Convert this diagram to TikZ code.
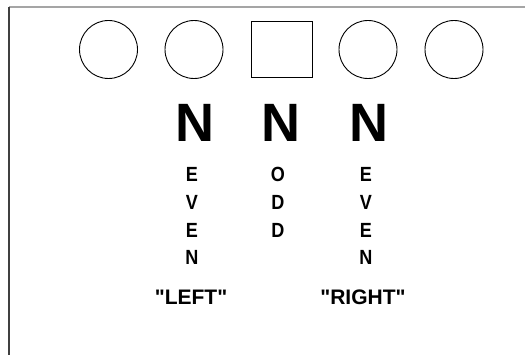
\documentclass[tikz,border=0pt]{standalone}
\usepackage{fontspec}
\setmainfont{Liberation Sans}
\newfontfamily\qfont{Liberation Sans}
\begin{document}
\begin{tikzpicture}[x=1pt,y=-1pt,
  circ/.style={draw=black,line width=0.9pt,circle,minimum size=58pt,inner sep=0pt},
  sq/.style={draw=black,line width=0.9pt,rectangle,minimum width=61pt,minimum height=56pt,inner sep=0pt},
  bigN/.style={font=\fontsize{54}{54}\selectfont\bfseries,inner sep=0pt},
  small/.style={font=\fontsize{20.5}{20.5}\selectfont\bfseries,inner sep=0pt,xscale=0.88},
  lbl/.style={font=\qfont\fontsize{21}{21}\selectfont\bfseries,inner sep=0pt}]
\useasboundingbox (0,0) rectangle (525,355);
\fill[white] (0,0) rectangle (525,355);
\coordinate (tl) at (9,7);
\coordinate (tr) at (525,7);
\coordinate (bl) at (9,355);
\draw[line width=1.2pt,color={rgb,255:red,165;green,165;blue,165}] (tl) -- (tr);
\draw[line width=1.3pt,color={rgb,255:red,64;green,64;blue,64}] (tl) -- (bl);
\node[circ] (c1) at (108.5,49.5) {};
\node[circ] (c2) at (194,49.5) {};
\node[sq] (s3) at (281.5,49) {};
\node[circ] (c4) at (368,49.5) {};
\node[circ] (c5) at (454,49.5) {};
\node[bigN] (n1) at (195,122.5) {N};
\node[bigN] (n2) at (281,122.5) {N};
\node[bigN] (n3) at (369,122.5) {N};
\node[small] (l1) at (192,174.5) {E};
\node[small] (l2) at (192,202) {V};
\node[small] (l3) at (192,230) {E};
\node[small] (l4) at (192,257.5) {N};
\node[small] (m1) at (278,174.5) {O};
\node[small] (m2) at (278,202) {D};
\node[small] (m3) at (278,230) {D};
\node[small] (r1) at (366,174.5) {E};
\node[small] (r2) at (366,202) {V};
\node[small] (r3) at (366,230) {E};
\node[small] (r4) at (366,257.5) {N};
\node[lbl] (left) at (191,297.5) {"LEFT"};
\node[lbl] (right) at (363,297.5) {"RIGHT"};
\end{tikzpicture}
\end{document}
